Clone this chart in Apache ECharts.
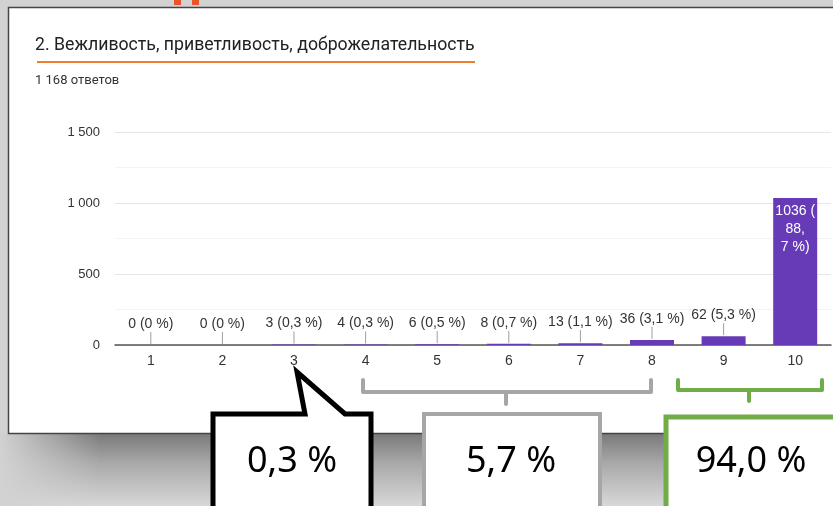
<!DOCTYPE html>
<html>
<head>
<meta charset="utf-8">
<script src="https://cdn.jsdelivr.net/npm/echarts@6/dist/echarts.min.js"></script>
<style>
html,body{margin:0;padding:0;background:#d2d2d2}
#chart{width:833px;height:506px}
</style>
</head>
<body>
<div id="chart"></div>
<script>
// data
const categories = ['1', '2', '3', '4', '5', '6', '7', '8', '9', '10'];
const counts = [0, 0, 3, 4, 6, 8, 13, 36, 62, 1036];
const percents = [0, 0, 0.3, 0.3, 0.5, 0.7, 1.1, 3.1, 5.3, 88.7];
const yTicks = [0, 500, 1000, 1500];
const totalAnswers = 1168;
const groupShares = [0.3, 5.7, 94.0];
const questionTitle = '2. Вежливость, приветливость, доброжелательность';

const insideLimit = 500; // bars taller than this get the label inside

function spaced(n) {
    return String(n).replace(/\B(?=(\d{3})+(?!\d))/g, ' ');
}
function comma(p, digits) {
    return p === 0 ? '0' : p.toFixed(digits).replace('.', ',');
}

const barData = counts.map((v, i) => {
    if (v <= insideLimit) return v;
    return {
        value: v,
        label: {
            position: 'insideTop',
            distance: 4,
            color: '#fff',
            lineHeight: 18,
            formatter: v + ' (\n' + comma(percents[i], 1).replace(',', ',\n') + ' %)'
        }
    };
});

const chart = echarts.init(document.getElementById('chart'));

const option = {
    backgroundColor: '#d2d2d2',
    animation: false,
    textStyle: { fontFamily: 'Liberation Sans' },
    grid: { left: 115, right: 2, top: 132, bottom: 161 },
    xAxis: {
        type: 'category',
        data: categories,
        axisTick: { show: false },
        axisLine: { lineStyle: { color: '#555', width: 1.5 } },
        axisLabel: { color: '#333', fontSize: 14, margin: 9 }
    },
    yAxis: {
        type: 'value',
        min: yTicks[0],
        max: yTicks[yTicks.length - 1],
        interval: yTicks[1] - yTicks[0],
        axisLine: { show: false },
        axisTick: { show: false },
        axisLabel: { color: '#333', fontSize: 13, margin: 15, formatter: spaced },
        splitLine: { lineStyle: { color: '#e6e6e6' } },
        minorTick: { show: false, splitNumber: 2 },
        minorSplitLine: { show: true, lineStyle: { color: '#f3f3f3' } }
    },
    series: [
        {
            type: 'bar',
            data: barData,
            barWidth: 44,
            itemStyle: { color: '#673ab7' },
            label: {
                show: true,
                position: 'top',
                distance: 14,
                fontSize: 14,
                color: '#333',
                formatter: p => p.value + ' (' + comma(percents[p.dataIndex], 1) + ' %)'
            },
            z: 2
        },
        {
            // leader lines from label to bar top
            type: 'custom',
            silent: true,
            data: counts.map((v, i) => [i, v]),
            encode: { x: 0, y: 1 },
            renderItem(params, api) {
                const v = api.value(1);
                if (v > insideLimit) return null;
                const p = api.coord([api.value(0), v]);
                return {
                    type: 'line',
                    shape: { x1: p[0], y1: p[1] - 1, x2: p[0], y2: p[1] - 13 },
                    style: { stroke: '#9e9e9e', lineWidth: 1 }
                };
            },
            z: 3
        }
    ],
    graphic: [
        // slide backdrop
        { type: 'rect', z: -10, shape: { x: 174, y: 0, width: 7, height: 5 }, style: { fill: '#e8552b' } },
        { type: 'rect', z: -10, shape: { x: 192, y: 0, width: 7, height: 5 }, style: { fill: '#e8552b' } },
        {
            type: 'rect', z: -10,
            shape: { x: 0, y: 434, width: 833, height: 72 },
            style: {
                fill: new echarts.graphic.LinearGradient(0, 0, 0, 1, [
                    { offset: 0, color: '#7a7a7a' },
                    { offset: 0.4, color: '#a8a8a8' },
                    { offset: 1, color: '#d8d8d8' }
                ])
            }
        },
        {
            type: 'rect', z: -9,
            shape: { x: 0, y: 434, width: 100, height: 72 },
            style: {
                fill: new echarts.graphic.LinearGradient(0, 0, 1, 0, [
                    { offset: 0, color: 'rgba(210,210,210,1)' },
                    { offset: 1, color: 'rgba(210,210,210,0)' }
                ])
            }
        },
        {
            type: 'rect', z: -8,
            shape: { x: 8.5, y: 7.5, width: 830, height: 426 },
            style: { fill: '#fff', stroke: '#444', lineWidth: 1.5 }
        },
        // form header
        {
            type: 'text', z: 5, left: 35, top: 37,
            style: { text: questionTitle, fontFamily: 'Roboto', fontSize: 17.7, fill: '#202124' }
        },
        { type: 'rect', z: 5, shape: { x: 37, y: 61, width: 438, height: 2 }, style: { fill: '#ed7d31' } },
        {
            type: 'text', z: 5, left: 35, top: 74,
            style: { text: spaced(totalAnswers) + ' ответов', fontFamily: 'Roboto', fontSize: 13, fill: '#333' }
        },
        // brackets
        {
            type: 'polyline', z: 20,
            shape: { points: [[363, 380], [363, 392], [651, 392], [651, 380]] },
            style: { stroke: '#a6a6a6', lineWidth: 4, fill: null, lineJoin: 'round', lineCap: 'round' }
        },
        {
            type: 'line', z: 20, shape: { x1: 506, y1: 392, x2: 506, y2: 404 },
            style: { stroke: '#a6a6a6', lineWidth: 4, lineCap: 'round' }
        },
        {
            type: 'polyline', z: 20,
            shape: { points: [[678, 380], [678, 390], [822, 390], [822, 380]] },
            style: { stroke: '#70ad47', lineWidth: 4, fill: null, lineJoin: 'round', lineCap: 'round' }
        },
        {
            type: 'line', z: 20, shape: { x1: 749, y1: 390, x2: 749, y2: 401 },
            style: { stroke: '#70ad47', lineWidth: 4, lineCap: 'round' }
        },
        // callout and boxes
        {
            type: 'polygon', z: 20,
            shape: { points: [[213, 414], [305, 414], [297, 372], [345, 414], [371, 414], [371, 514], [213, 514]] },
            style: { fill: '#fff', stroke: '#000', lineWidth: 5, lineJoin: 'miter' }
        },
        {
            type: 'rect', z: 20, shape: { x: 424, y: 414, width: 176, height: 100 },
            style: { fill: '#fff', stroke: '#a6a6a6', lineWidth: 4 }
        },
        {
            type: 'rect', z: 20, shape: { x: 666, y: 417, width: 180, height: 100 },
            style: { fill: '#fff', stroke: '#70ad47', lineWidth: 5 }
        },
        {
            type: 'text', z: 21,
            style: { x: 292, y: 462, text: comma(groupShares[0], 1) + ' %', align: 'center', verticalAlign: 'middle', fontFamily: 'Noto Sans', fontSize: 36, fill: '#000' }
        },
        {
            type: 'text', z: 21,
            style: { x: 511, y: 462, text: comma(groupShares[1], 1) + ' %', align: 'center', verticalAlign: 'middle', fontFamily: 'Noto Sans', fontSize: 36, fill: '#000' }
        },
        {
            type: 'text', z: 21,
            style: { x: 751, y: 462, text: comma(groupShares[2], 1) + ' %', align: 'center', verticalAlign: 'middle', fontFamily: 'Noto Sans', fontSize: 36, fill: '#000' }
        }
    ]
};

chart.setOption(option);
window.addEventListener('resize', () => chart.resize());
</script>
</body>
</html>
